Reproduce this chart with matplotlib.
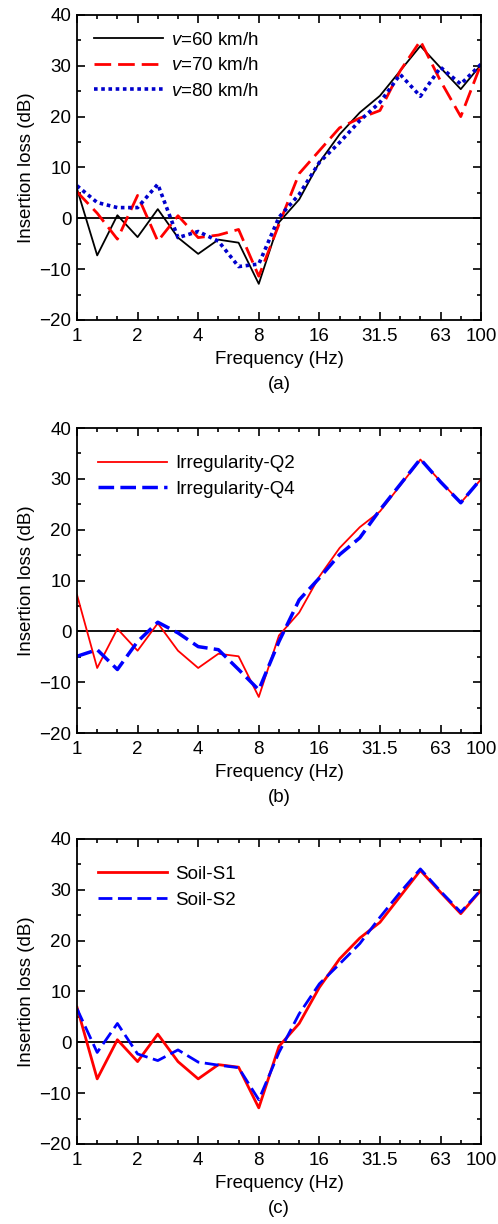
import numpy as np
import matplotlib
matplotlib.use('Agg')
import matplotlib.pyplot as plt
from matplotlib.ticker import MultipleLocator

plt.rcParams['font.family'] = ['Liberation Sans', 'DejaVu Sans']
plt.rcParams['mathtext.fontset'] = 'custom'
plt.rcParams['mathtext.it'] = 'Liberation Sans:italic'
plt.rcParams['mathtext.rm'] = 'Liberation Sans'

# 1/3 octave band centre frequencies (Hz)
bands = [1, 1.25, 1.6, 2, 2.5, 3.15, 4, 5, 6.3, 8, 10, 12.5,
         16, 20, 25, 31.5, 40, 50, 63, 80, 100]
tick_labels = ['1', '2', '4', '8', '16', '31.5', '63', '100']
tick_idx = [0, 3, 6, 9, 12, 15, 18, 20]

# (a) train speed
v60 = [5.8, -7.3, 0.6, -3.7, 1.8, -3.8, -7.0, -4.2, -4.8, -12.9, -0.8,
       3.7, 11.0, 16.5, 20.8, 24.1, 29.0, 33.9, 29.6, 25.4, 30.2]
v70 = [5.2, 1.0, -4.1, 4.5, -4.5, 0.5, -3.8, -3.3, -2.2, -11.4, -1.2,
       8.8, 13.3, 17.8, 19.7, 21.2, 29.0, 34.9, 27.0, 20.0, 30.3]
v80 = [6.4, 3.1, 2.1, 2.1, 6.7, -3.8, -2.6, -4.5, -9.5, -9.0, 0.2,
       4.7, 11.0, 14.9, 19.2, 22.8, 28.3, 24.0, 29.7, 26.4, 30.3]

# (b) track irregularity
q2 = [7.2, -7.2, 0.5, -3.8, 1.6, -3.8, -7.2, -4.4, -4.9, -12.9, -0.8,
      3.7, 10.8, 16.4, 20.5, 23.6, 28.7, 33.8, 29.5, 25.3, 29.9]
q4 = [-4.9, -3.6, -7.5, -2.0, 1.8, -0.3, -3.0, -3.6, -7.5, -11.5, -2.0,
      6.2, 10.5, 15.1, 18.4, 23.9, 28.9, 33.9, 29.4, 25.3, 30.0]

# (c) soil
s1 = [6.9, -7.2, 0.5, -3.8, 1.6, -3.8, -7.2, -4.4, -4.9, -12.9, -0.8,
      3.7, 10.8, 16.4, 20.5, 23.6, 28.7, 33.8, 29.5, 25.3, 29.9]
s2 = [6.6, -2.0, 3.7, -2.3, -3.6, -1.5, -3.9, -4.5, -5.0, -11.3, -2.0,
      5.6, 11.5, 15.4, 19.4, 24.6, 29.5, 34.1, 29.7, 25.6, 30.0]

x = np.arange(len(bands))
fs = 13.5

fig = plt.figure(figsize=(4.98, 12.24), dpi=100)
ax_a = fig.add_axes([0.1546, 0.7386, 0.8112, 0.2492])
ax_b = fig.add_axes([0.1546, 0.4011, 0.8112, 0.2492])
ax_c = fig.add_axes([0.1546, 0.0654, 0.8112, 0.2492])

ax_a.plot(x, v60, color='black', lw=1.3, label='$v$=60 km/h')
ax_a.plot(x, v70, color='red', lw=2.0, ls=(0, (6, 2.5)), label='$v$=70 km/h')
ax_a.plot(x, v80, color='#0000cc', lw=2.6, ls=(0, (1, 1)), label='$v$=80 km/h')

ax_b.plot(x, q2, color='red', lw=1.3, label='Irregularity-Q2')
ax_b.plot(x, q4, color='blue', lw=2.5, ls=(0, (4.5, 1.8)), label='Irregularity-Q4')

ax_c.plot(x, s1, color='red', lw=2.0, label='Soil-S1')
ax_c.plot(x, s2, color='blue', lw=2.0, ls=(0, (5, 2)), label='Soil-S2')

# legend anchors (axes fraction)
anchors = [(0.0, 1.0), (0.01, 0.967), (0.01, 0.967)]

for ax, tag, anc in zip([ax_a, ax_b, ax_c], ['(a)', '(b)', '(c)'], anchors):
    ax.axhline(0, color='black', lw=1.3, zorder=1)
    ax.set_xlim(0, 20)
    ax.set_ylim(-20, 40)
    ax.set_xticks(tick_idx)
    ax.set_xticklabels(tick_labels)
    ax.set_xticks(x, minor=True)
    ax.yaxis.set_major_locator(MultipleLocator(10))
    ax.yaxis.set_minor_locator(MultipleLocator(5))
    ax.tick_params(which='both', direction='in', top=True, right=True,
                   labelsize=fs, width=1.2)
    ax.tick_params(which='major', length=6, pad=4)
    ax.tick_params(axis='x', which='major', pad=6)
    ax.tick_params(which='minor', length=3)
    for s in ax.spines.values():
        s.set_linewidth(1.3)
    ax.set_xlabel('Frequency (Hz)', fontsize=fs, labelpad=4)
    ax.set_ylabel('Insertion loss (dB)', fontsize=fs, labelpad=3)
    ax.text(0.5, -0.21, tag, transform=ax.transAxes, ha='center',
            va='center', fontsize=fs)
    ax.legend(loc='upper left', bbox_to_anchor=anc, frameon=False,
              fontsize=fs, handlelength=3.7, handletextpad=0.4,
              labelspacing=0.45, borderaxespad=0.5)

fig.savefig('out.png', dpi=100)
